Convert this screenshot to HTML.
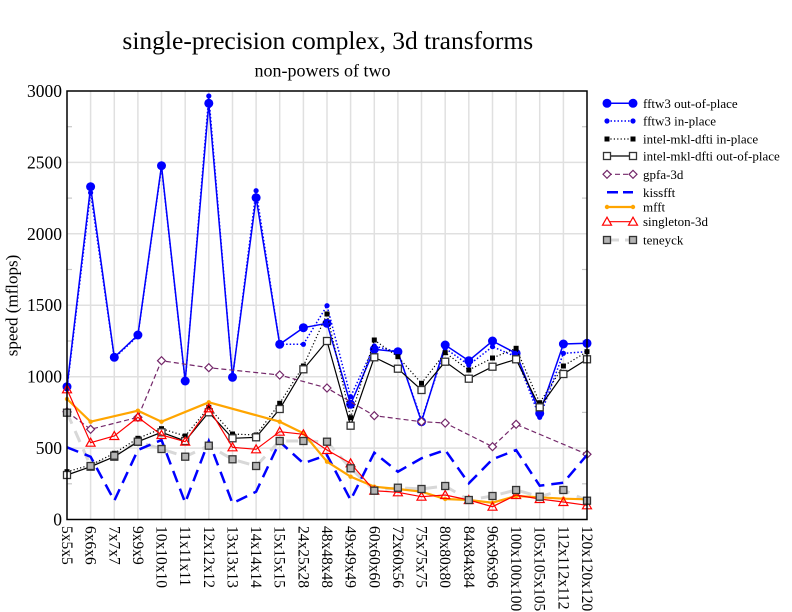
<!DOCTYPE html>
<html><head><meta charset="utf-8"><style>
html,body{margin:0;padding:0;background:#fff;}
svg{display:block;}
text{font-family:"Liberation Serif","Times New Roman",serif;fill:#000;}
</style></head><body>
<svg width="792" height="612" viewBox="0 0 792 612" xmlns="http://www.w3.org/2000/svg">
<rect width="792" height="612" fill="#fff"/>
<text x="327.8" y="49" font-size="25.5" text-anchor="middle">single-precision complex, 3d transforms</text>
<text x="322.5" y="76.5" font-size="18" text-anchor="middle">non-powers of two</text>

<!-- grid -->
<g stroke="#e0e0e0" stroke-width="1.5">
<line x1="67" y1="448.1" x2="587" y2="448.1"/><line x1="67" y1="376.7" x2="587" y2="376.7"/><line x1="67" y1="305.2" x2="587" y2="305.2"/><line x1="67" y1="233.8" x2="587" y2="233.8"/><line x1="67" y1="162.4" x2="587" y2="162.4"/>
<line x1="90.6" y1="91" x2="90.6" y2="519.5"/><line x1="114.3" y1="91" x2="114.3" y2="519.5"/><line x1="137.9" y1="91" x2="137.9" y2="519.5"/><line x1="161.5" y1="91" x2="161.5" y2="519.5"/><line x1="185.2" y1="91" x2="185.2" y2="519.5"/><line x1="208.8" y1="91" x2="208.8" y2="519.5"/><line x1="232.5" y1="91" x2="232.5" y2="519.5"/><line x1="256.1" y1="91" x2="256.1" y2="519.5"/><line x1="279.7" y1="91" x2="279.7" y2="519.5"/><line x1="303.4" y1="91" x2="303.4" y2="519.5"/><line x1="327" y1="91" x2="327" y2="519.5"/><line x1="350.6" y1="91" x2="350.6" y2="519.5"/><line x1="374.3" y1="91" x2="374.3" y2="519.5"/><line x1="397.9" y1="91" x2="397.9" y2="519.5"/><line x1="421.5" y1="91" x2="421.5" y2="519.5"/><line x1="445.2" y1="91" x2="445.2" y2="519.5"/><line x1="468.8" y1="91" x2="468.8" y2="519.5"/><line x1="492.5" y1="91" x2="492.5" y2="519.5"/><line x1="516.1" y1="91" x2="516.1" y2="519.5"/><line x1="539.7" y1="91" x2="539.7" y2="519.5"/><line x1="563.4" y1="91" x2="563.4" y2="519.5"/>
</g>
<!-- minor ticks -->
<g stroke="#c8c8c8" stroke-width="1.2">
<line x1="67" y1="483.8" x2="72" y2="483.8"/><line x1="67" y1="412.4" x2="72" y2="412.4"/><line x1="67" y1="341" x2="72" y2="341"/><line x1="67" y1="269.5" x2="72" y2="269.5"/><line x1="67" y1="198.1" x2="72" y2="198.1"/><line x1="67" y1="126.7" x2="72" y2="126.7"/>
<line x1="582" y1="483.8" x2="587" y2="483.8"/><line x1="582" y1="412.4" x2="587" y2="412.4"/><line x1="582" y1="341" x2="587" y2="341"/><line x1="582" y1="269.5" x2="587" y2="269.5"/><line x1="582" y1="198.1" x2="587" y2="198.1"/><line x1="582" y1="126.7" x2="587" y2="126.7"/>
</g>

<!-- series -->
<!-- teneyck line drawn early (light) -->
<polyline fill="none" stroke="#d8d8d8" stroke-width="3" stroke-dasharray="12,8" points="67,412.7 90.6,466 114.3,455.7 137.9,441.7 161.5,449 185.2,456.7 208.8,445.7 232.5,459.3 256.1,466 279.7,441 303.4,441 327,441.7 350.6,468.3 374.3,490.7 397.9,487.7 421.5,489 445.2,486 468.8,500 492.5,496 516.1,490 539.7,496.7 563.4,490 587,500.7"/>

<!-- fftw3 out-of-place -->
<polyline fill="none" stroke="#0000ff" stroke-width="1.5" points="67,386.7 90.6,186.7 114.3,357.3 137.9,335 161.5,165.7 185.2,381 208.8,103.3 232.5,377.3 256.1,197.7 279.7,344.3 303.4,327.7 327,323.3 350.6,404.3 374.3,349.3 397.9,351.7 421.5,421.7 445.2,345 468.8,360.7 492.5,341 516.1,353.3 539.7,413.3 563.4,344 587,343.3"/>
<g fill="#0000ff">
<circle cx="67" cy="386.7" r="4.5"/><circle cx="90.6" cy="186.7" r="4.5"/><circle cx="114.3" cy="357.3" r="4.5"/><circle cx="137.9" cy="335" r="4.5"/><circle cx="161.5" cy="165.7" r="4.5"/><circle cx="185.2" cy="381" r="4.5"/><circle cx="208.8" cy="103.3" r="4.5"/><circle cx="232.5" cy="377.3" r="4.5"/><circle cx="256.1" cy="197.7" r="4.5"/><circle cx="279.7" cy="344.3" r="4.5"/><circle cx="303.4" cy="327.7" r="4.5"/><circle cx="327" cy="323.3" r="4.5"/><circle cx="350.6" cy="404.3" r="4.5"/><circle cx="374.3" cy="349.3" r="4.5"/><circle cx="397.9" cy="351.7" r="4.5"/><circle cx="421.5" cy="421.7" r="4.5"/><circle cx="445.2" cy="345" r="4.5"/><circle cx="468.8" cy="360.7" r="4.5"/><circle cx="492.5" cy="341" r="4.5"/><circle cx="516.1" cy="353.3" r="4.5"/><circle cx="539.7" cy="413.3" r="4.5"/><circle cx="563.4" cy="344" r="4.5"/><circle cx="587" cy="343.3" r="4.5"/>
</g>

<!-- fftw3 in-place -->
<polyline fill="none" stroke="#0000ff" stroke-width="1.5" stroke-dasharray="1.5,2" points="67,389 90.6,192.7 114.3,358 137.9,336 161.5,167 185.2,382 208.8,96 232.5,378 256.1,190.7 279.7,344.3 303.4,344.3 327,305.7 350.6,396.7 374.3,346 397.9,352 421.5,420 445.2,348.3 468.8,365 492.5,346.7 516.1,356.7 539.7,417.3 563.4,353.3 587,351.7"/>
<g fill="#0000ff">
<circle cx="67" cy="389" r="2.6"/><circle cx="90.6" cy="192.7" r="2.6"/><circle cx="114.3" cy="358" r="2.6"/><circle cx="137.9" cy="336" r="2.6"/><circle cx="161.5" cy="167" r="2.6"/><circle cx="185.2" cy="382" r="2.6"/><circle cx="208.8" cy="96" r="2.6"/><circle cx="232.5" cy="378" r="2.6"/><circle cx="256.1" cy="190.7" r="2.6"/><circle cx="279.7" cy="344.3" r="2.6"/><circle cx="303.4" cy="344.3" r="2.6"/><circle cx="327" cy="305.7" r="2.6"/><circle cx="350.6" cy="396.7" r="2.6"/><circle cx="374.3" cy="346" r="2.6"/><circle cx="397.9" cy="352" r="2.6"/><circle cx="421.5" cy="420" r="2.6"/><circle cx="445.2" cy="348.3" r="2.6"/><circle cx="468.8" cy="365" r="2.6"/><circle cx="492.5" cy="346.7" r="2.6"/><circle cx="516.1" cy="356.7" r="2.6"/><circle cx="539.7" cy="417.3" r="2.6"/><circle cx="563.4" cy="353.3" r="2.6"/><circle cx="587" cy="351.7" r="2.6"/>
</g>

<!-- intel in-place -->
<polyline fill="none" stroke="#000" stroke-width="1.2" stroke-dasharray="1.2,2.2" points="67,471.7 90.6,465 114.3,453.3 137.9,438.3 161.5,428.7 185.2,436 208.8,407.3 232.5,434 256.1,435 279.7,403.3 303.4,366 327,314 350.6,417.7 374.3,340 397.9,356.7 421.5,383.3 445.2,352.7 468.8,370 492.5,358 516.1,348.3 539.7,402.7 563.4,366 587,351.7"/>
<g fill="#000">
<rect x="64.5" y="469.2" width="5" height="5"/><rect x="88.1" y="462.5" width="5" height="5"/><rect x="111.8" y="450.8" width="5" height="5"/><rect x="135.4" y="435.8" width="5" height="5"/><rect x="159" y="426.2" width="5" height="5"/><rect x="182.7" y="433.5" width="5" height="5"/><rect x="206.3" y="404.8" width="5" height="5"/><rect x="230" y="431.5" width="5" height="5"/><rect x="253.6" y="432.5" width="5" height="5"/><rect x="277.2" y="400.8" width="5" height="5"/><rect x="300.9" y="363.5" width="5" height="5"/><rect x="324.5" y="311.5" width="5" height="5"/><rect x="348.1" y="415.2" width="5" height="5"/><rect x="371.8" y="337.5" width="5" height="5"/><rect x="395.4" y="354.2" width="5" height="5"/><rect x="419" y="380.8" width="5" height="5"/><rect x="442.7" y="350.2" width="5" height="5"/><rect x="466.3" y="367.5" width="5" height="5"/><rect x="490" y="355.5" width="5" height="5"/><rect x="513.6" y="345.8" width="5" height="5"/><rect x="537.2" y="400.2" width="5" height="5"/><rect x="560.9" y="363.5" width="5" height="5"/><rect x="584.5" y="349.2" width="5" height="5"/>
</g>

<!-- intel out-of-place -->
<polyline fill="none" stroke="#000" stroke-width="1.2" points="67,475 90.6,466.7 114.3,456.7 137.9,441.7 161.5,432.3 185.2,441 208.8,412.3 232.5,438.3 256.1,437.3 279.7,409 303.4,369.3 327,341 350.6,425.7 374.3,357.3 397.9,368.7 421.5,390 445.2,361.7 468.8,378.7 492.5,366.7 516.1,359.3 539.7,407.3 563.4,374 587,359.3"/>
<g fill="#fff" stroke="#333" stroke-width="1.3">
<rect x="63.5" y="471.5" width="7" height="7"/><rect x="87.1" y="463.2" width="7" height="7"/><rect x="110.8" y="453.2" width="7" height="7"/><rect x="134.4" y="438.2" width="7" height="7"/><rect x="158" y="428.8" width="7" height="7"/><rect x="181.7" y="437.5" width="7" height="7"/><rect x="205.3" y="408.8" width="7" height="7"/><rect x="229" y="434.8" width="7" height="7"/><rect x="252.6" y="433.8" width="7" height="7"/><rect x="276.2" y="405.5" width="7" height="7"/><rect x="299.9" y="365.8" width="7" height="7"/><rect x="323.5" y="337.5" width="7" height="7"/><rect x="347.1" y="422.2" width="7" height="7"/><rect x="370.8" y="353.8" width="7" height="7"/><rect x="394.4" y="365.2" width="7" height="7"/><rect x="418" y="386.5" width="7" height="7"/><rect x="441.7" y="358.2" width="7" height="7"/><rect x="465.3" y="375.2" width="7" height="7"/><rect x="489" y="363.2" width="7" height="7"/><rect x="512.6" y="355.8" width="7" height="7"/><rect x="536.2" y="403.8" width="7" height="7"/><rect x="559.9" y="370.5" width="7" height="7"/><rect x="583.5" y="355.8" width="7" height="7"/>
</g>

<!-- gpfa-3d -->
<polyline fill="none" stroke="#74286a" stroke-width="1.2" stroke-dasharray="5,3" points="67,411.7 90.6,429.3 137.9,417.3 161.5,360.7 208.8,367.7 279.7,375 327,388 374.3,415.7 421.5,421.7 445.2,423 492.5,446.7 516.1,424.3 587,454.3"/>
<g fill="#fff" stroke="#74286a" stroke-width="1.2">
<polygon points="67,407.7 71,411.7 67,415.7 63,411.7"/><polygon points="90.6,425.3 94.6,429.3 90.6,433.3 86.6,429.3"/><polygon points="137.9,413.3 141.9,417.3 137.9,421.3 133.9,417.3"/><polygon points="161.5,356.7 165.5,360.7 161.5,364.7 157.5,360.7"/><polygon points="208.8,363.7 212.8,367.7 208.8,371.7 204.8,367.7"/><polygon points="279.7,371 283.7,375 279.7,379 275.7,375"/><polygon points="327,384 331,388 327,392 323,388"/><polygon points="374.3,411.7 378.3,415.7 374.3,419.7 370.3,415.7"/><polygon points="421.5,417.7 425.5,421.7 421.5,425.7 417.5,421.7"/><polygon points="445.2,419 449.2,423 445.2,427 441.2,423"/><polygon points="492.5,442.7 496.5,446.7 492.5,450.7 488.5,446.7"/><polygon points="516.1,420.3 520.1,424.3 516.1,428.3 512.1,424.3"/><polygon points="587,450.3 591,454.3 587,458.3 583,454.3"/>
</g>

<!-- kissfft -->
<polyline fill="none" stroke="#0000ff" stroke-width="2.5" stroke-dasharray="12,7" points="67,447.3 90.6,456.7 114.3,500.7 137.9,450 161.5,440 185.2,502.7 208.8,441 232.5,503.3 256.1,491.7 279.7,441.7 303.4,463.3 327,455 350.6,500 374.3,452.7 397.9,471.7 421.5,458.3 445.2,450 468.8,483.3 492.5,459.3 516.1,450 539.7,485.7 563.4,482.7 587,455"/>

<!-- mfft -->
<polyline fill="none" stroke="#ffa500" stroke-width="2.2" points="67,399 90.6,421.7 137.9,410.7 161.5,421.7 208.8,402.3 279.7,421.7 303.4,433.3 327,461.7 350.6,476.7 374.3,486.7 397.9,489 421.5,491.7 445.2,499 468.8,500 492.5,502.7 516.1,496 539.7,497.3 563.4,498.7 587,499.3"/>
<g fill="#ffa500">
<circle cx="67" cy="399" r="2.2"/><circle cx="90.6" cy="421.7" r="2.2"/><circle cx="137.9" cy="410.7" r="2.2"/><circle cx="161.5" cy="421.7" r="2.2"/><circle cx="208.8" cy="402.3" r="2.2"/><circle cx="279.7" cy="421.7" r="2.2"/><circle cx="303.4" cy="433.3" r="2.2"/><circle cx="327" cy="461.7" r="2.2"/><circle cx="350.6" cy="476.7" r="2.2"/><circle cx="374.3" cy="486.7" r="2.2"/><circle cx="397.9" cy="489" r="2.2"/><circle cx="421.5" cy="491.7" r="2.2"/><circle cx="445.2" cy="499" r="2.2"/><circle cx="468.8" cy="500" r="2.2"/><circle cx="492.5" cy="502.7" r="2.2"/><circle cx="516.1" cy="496" r="2.2"/><circle cx="539.7" cy="497.3" r="2.2"/><circle cx="563.4" cy="498.7" r="2.2"/><circle cx="587" cy="499.3" r="2.2"/>
</g>

<!-- singleton-3d -->
<polyline fill="none" stroke="#ff0000" stroke-width="1.2" points="67,389.3 90.6,442.7 114.3,436 137.9,417.3 161.5,435 185.2,441.7 208.8,408.3 232.5,447.3 256.1,449.3 279.7,431.7 303.4,434.3 327,450 350.6,463.3 374.3,490.7 397.9,492.3 421.5,496.7 445.2,495 468.8,500 492.5,506.7 516.1,495 539.7,499 563.4,502 587,505.3"/>
<g fill="none" stroke="#ff0000" stroke-width="1.2">
<polygon points="67,384.8 71.5,392.8 62.5,392.8"/><polygon points="90.6,438.2 95.1,446.2 86.1,446.2"/><polygon points="114.3,431.5 118.8,439.5 109.8,439.5"/><polygon points="137.9,412.8 142.4,420.8 133.4,420.8"/><polygon points="161.5,430.5 166,438.5 157,438.5"/><polygon points="185.2,437.2 189.7,445.2 180.7,445.2"/><polygon points="208.8,403.8 213.3,411.8 204.3,411.8"/><polygon points="232.5,442.8 237,450.8 228,450.8"/><polygon points="256.1,444.8 260.6,452.8 251.6,452.8"/><polygon points="279.7,427.2 284.2,435.2 275.2,435.2"/><polygon points="303.4,429.8 307.9,437.8 298.9,437.8"/><polygon points="327,445.5 331.5,453.5 322.5,453.5"/><polygon points="350.6,458.8 355.1,466.8 346.1,466.8"/><polygon points="374.3,486.2 378.8,494.2 369.8,494.2"/><polygon points="397.9,487.8 402.4,495.8 393.4,495.8"/><polygon points="421.5,492.2 426,500.2 417,500.2"/><polygon points="445.2,490.5 449.7,498.5 440.7,498.5"/><polygon points="468.8,495.5 473.3,503.5 464.3,503.5"/><polygon points="492.5,502.2 497,510.2 488,510.2"/><polygon points="516.1,490.5 520.6,498.5 511.6,498.5"/><polygon points="539.7,494.5 544.2,502.5 535.2,502.5"/><polygon points="563.4,497.5 567.9,505.5 558.9,505.5"/><polygon points="587,500.8 591.5,508.8 582.5,508.8"/>
</g>

<!-- teneyck markers -->
<g fill="#b4b4b4" stroke="#333" stroke-width="1.3">
<rect x="63.5" y="409.2" width="7" height="7"/><rect x="87.1" y="462.5" width="7" height="7"/><rect x="110.8" y="452.2" width="7" height="7"/><rect x="134.4" y="438.2" width="7" height="7"/><rect x="158" y="445.5" width="7" height="7"/><rect x="181.7" y="453.2" width="7" height="7"/><rect x="205.3" y="442.2" width="7" height="7"/><rect x="229" y="455.8" width="7" height="7"/><rect x="252.6" y="462.5" width="7" height="7"/><rect x="276.2" y="437.5" width="7" height="7"/><rect x="299.9" y="437.5" width="7" height="7"/><rect x="323.5" y="438.2" width="7" height="7"/><rect x="347.1" y="464.8" width="7" height="7"/><rect x="370.8" y="487.2" width="7" height="7"/><rect x="394.4" y="484.2" width="7" height="7"/><rect x="418" y="485.5" width="7" height="7"/><rect x="441.7" y="482.5" width="7" height="7"/><rect x="465.3" y="496.5" width="7" height="7"/><rect x="489" y="492.5" width="7" height="7"/><rect x="512.6" y="486.5" width="7" height="7"/><rect x="536.2" y="493.2" width="7" height="7"/><rect x="559.9" y="486.5" width="7" height="7"/><rect x="583.5" y="497.2" width="7" height="7"/>
</g>

<!-- frame -->
<rect x="67" y="91" width="520" height="428.5" fill="none" stroke="#000" stroke-width="1.5"/>

<!-- y labels -->
<g font-size="17.5" text-anchor="end">
<text x="62" y="525.5">0</text><text x="62" y="454.1">500</text><text x="62" y="382.7">1000</text><text x="62" y="311.2">1500</text><text x="62" y="239.8">2000</text><text x="62" y="168.4">2500</text><text x="62" y="97">3000</text>
</g>
<text transform="translate(17.5,305.5) rotate(-90)" font-size="17" text-anchor="middle">speed (mflops)</text>

<!-- x labels -->
<g font-size="15.5">
<text transform="translate(62,526) rotate(90)">5x5x5</text>
<text transform="translate(85.6,526) rotate(90)">6x6x6</text>
<text transform="translate(109.3,526) rotate(90)">7x7x7</text>
<text transform="translate(132.9,526) rotate(90)">9x9x9</text>
<text transform="translate(156.5,526) rotate(90)">10x10x10</text>
<text transform="translate(180.2,526) rotate(90)">11x11x11</text>
<text transform="translate(203.8,526) rotate(90)">12x12x12</text>
<text transform="translate(227.5,526) rotate(90)">13x13x13</text>
<text transform="translate(251.1,526) rotate(90)">14x14x14</text>
<text transform="translate(274.7,526) rotate(90)">15x15x15</text>
<text transform="translate(298.4,526) rotate(90)">24x25x28</text>
<text transform="translate(322,526) rotate(90)">48x48x48</text>
<text transform="translate(345.6,526) rotate(90)">49x49x49</text>
<text transform="translate(369.3,526) rotate(90)">60x60x60</text>
<text transform="translate(392.9,526) rotate(90)">72x60x56</text>
<text transform="translate(416.5,526) rotate(90)">75x75x75</text>
<text transform="translate(440.2,526) rotate(90)">80x80x80</text>
<text transform="translate(463.8,526) rotate(90)">84x84x84</text>
<text transform="translate(487.5,526) rotate(90)">96x96x96</text>
<text transform="translate(511.1,526) rotate(90)">100x100x100</text>
<text transform="translate(534.7,526) rotate(90)">105x105x105</text>
<text transform="translate(558.4,526) rotate(90)">112x112x112</text>
<text transform="translate(582,526) rotate(90)">120x120x120</text>
</g>

<!-- legend -->
<g font-size="13">
<line x1="607" y1="103.3" x2="633" y2="103.3" stroke="#0000ff" stroke-width="1.5"/>
<circle cx="607" cy="103.3" r="4.5" fill="#0000ff"/><circle cx="633" cy="103.3" r="4.5" fill="#0000ff"/>
<text x="643" y="107.8">fftw3 out-of-place</text>

<line x1="607" y1="121" x2="633" y2="121" stroke="#0000ff" stroke-width="1.5" stroke-dasharray="1.5,2"/>
<circle cx="607" cy="121" r="2.6" fill="#0000ff"/><circle cx="633" cy="121" r="2.6" fill="#0000ff"/>
<text x="643" y="125.5">fftw3 in-place</text>

<line x1="607" y1="139" x2="633" y2="139" stroke="#000" stroke-width="1.2" stroke-dasharray="1.2,2.2"/>
<rect x="604.5" y="136.5" width="5" height="5" fill="#000"/><rect x="630.5" y="136.5" width="5" height="5" fill="#000"/>
<text x="643" y="143.5">intel-mkl-dfti in-place</text>

<line x1="607" y1="156" x2="633" y2="156" stroke="#000" stroke-width="1.2"/>
<rect x="603.5" y="152.5" width="7" height="7" fill="#fff" stroke="#333" stroke-width="1.3"/><rect x="629.5" y="152.5" width="7" height="7" fill="#fff" stroke="#333" stroke-width="1.3"/>
<text x="643" y="160.5">intel-mkl-dfti out-of-place</text>

<line x1="607" y1="174.3" x2="633" y2="174.3" stroke="#74286a" stroke-width="1.2" stroke-dasharray="5,3"/>
<polygon points="607,170.3 611,174.3 607,178.3 603,174.3" fill="#fff" stroke="#74286a" stroke-width="1.2"/>
<polygon points="633,170.3 637,174.3 633,178.3 629,174.3" fill="#fff" stroke="#74286a" stroke-width="1.2"/>
<text x="643" y="178.8">gpfa-3d</text>

<line x1="607" y1="192.3" x2="633" y2="192.3" stroke="#0000ff" stroke-width="2.5" stroke-dasharray="11,5"/>
<text x="643" y="196.8">kissfft</text>

<line x1="607" y1="207" x2="633" y2="207" stroke="#ffa500" stroke-width="2.2"/>
<circle cx="607" cy="207" r="2.2" fill="#ffa500"/><circle cx="633" cy="207" r="2.2" fill="#ffa500"/>
<text x="643" y="211.5">mfft</text>

<line x1="607" y1="221.7" x2="633" y2="221.7" stroke="#ff0000" stroke-width="1.2"/>
<polygon points="607,217.2 611.5,225.2 602.5,225.2" fill="#fff" stroke="#ff0000" stroke-width="1.2"/>
<polygon points="633,217.2 637.5,225.2 628.5,225.2" fill="#fff" stroke="#ff0000" stroke-width="1.2"/>
<text x="643" y="226.2">singleton-3d</text>

<line x1="611" y1="240" x2="629" y2="240" stroke="#d8d8d8" stroke-width="3" stroke-dasharray="8,6"/>
<rect x="603.5" y="236.5" width="7" height="7" fill="#b4b4b4" stroke="#333" stroke-width="1.3"/><rect x="629.5" y="236.5" width="7" height="7" fill="#b4b4b4" stroke="#333" stroke-width="1.3"/>
<text x="643" y="244.5">teneyck</text>
</g>
</svg>
</body></html>
